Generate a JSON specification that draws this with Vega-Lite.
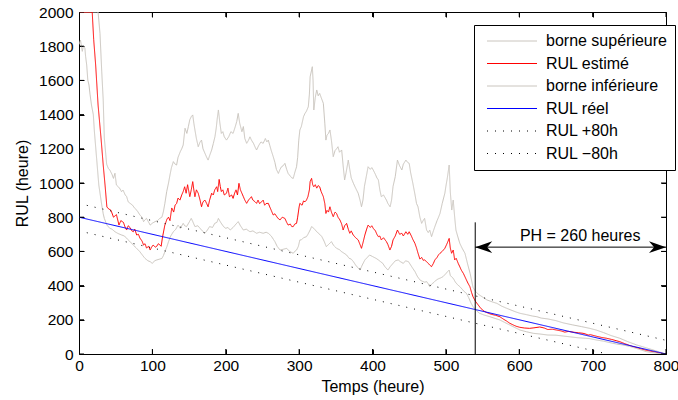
{
  "$schema": "https://vega.github.io/schema/vega-lite/v6.json",
  "width": 587,
  "height": 342,
  "autosize": {"type": "none"},
  "padding": {"left": 79, "top": 12, "right": 12, "bottom": 46},
  "background": "white",
  "resolve": {"axis": {"x": "independent", "y": "independent"}},
  "config": {
    "font": "Liberation Sans",
    "view": {"stroke": "black", "strokeWidth": 1},
    "axis": {
      "grid": false,
      "domain": false,
      "ticks": true,
      "tickSize": 5,
      "tickWidth": 1,
      "offset": -5,
      "tickColor": "black",
      "labelColor": "black",
      "titleColor": "black",
      "labelFontSize": 15.5,
      "titleFontSize": 16,
      "titleFontWeight": "normal",
      "labelFlush": false,
      "labelOverlap": false
    }
  },
  "datasets": {
    "series": [
      {"s":"borne supérieure","t":0,"v":2000},{"s":"borne supérieure","t":24,"v":2000},{"s":"borne supérieure","t":26,"v":2000},{"s":"borne supérieure","t":28.6,"v":1875},{"s":"borne supérieure","t":31,"v":1651},{"s":"borne supérieure","t":33,"v":1485},{"s":"borne supérieure","t":34.5,"v":1263},{"s":"borne supérieure","t":37.7,"v":1110},{"s":"borne supérieure","t":40,"v":1085},{"s":"borne supérieure","t":42,"v":1076},{"s":"borne supérieure","t":45,"v":1050},{"s":"borne supérieure","t":47,"v":1027},{"s":"borne supérieure","t":49,"v":1057},{"s":"borne supérieure","t":51,"v":988},{"s":"borne supérieure","t":53.6,"v":978},{"s":"borne supérieure","t":56,"v":965},{"s":"borne supérieure","t":58,"v":949},{"s":"borne supérieure","t":60,"v":959},{"s":"borne supérieure","t":63,"v":930},{"s":"borne supérieure","t":65,"v":920},{"s":"borne supérieure","t":67,"v":890},{"s":"borne supérieure","t":70,"v":880},{"s":"borne supérieure","t":73,"v":870},{"s":"borne supérieure","t":76,"v":852},{"s":"borne supérieure","t":79,"v":840},{"s":"borne supérieure","t":83,"v":813},{"s":"borne supérieure","t":86,"v":800},{"s":"borne supérieure","t":88,"v":774},{"s":"borne supérieure","t":90,"v":785},{"s":"borne supérieure","t":92,"v":793},{"s":"borne supérieure","t":95,"v":770},{"s":"borne supérieure","t":97,"v":754},{"s":"borne supérieure","t":100,"v":765},{"s":"borne supérieure","t":103.6,"v":774},{"s":"borne supérieure","t":107,"v":780},{"s":"borne supérieure","t":110,"v":793},{"s":"borne supérieure","t":113,"v":800},{"s":"borne supérieure","t":115,"v":832},{"s":"borne supérieure","t":117,"v":880},{"s":"borne supérieure","t":119.5,"v":949},{"s":"borne supérieure","t":122,"v":1000},{"s":"borne supérieure","t":124,"v":1047},{"s":"borne supérieure","t":126,"v":1090},{"s":"borne supérieure","t":128.6,"v":1125},{"s":"borne supérieure","t":131,"v":1110},{"s":"borne supérieure","t":133,"v":1105},{"s":"borne supérieure","t":135,"v":1150},{"s":"borne supérieure","t":138,"v":1183},{"s":"borne supérieure","t":140,"v":1200},{"s":"borne supérieure","t":142,"v":1222},{"s":"borne supérieure","t":144.5,"v":1320},{"s":"borne supérieure","t":147,"v":1290},{"s":"borne supérieure","t":149,"v":1329},{"s":"borne supérieure","t":151,"v":1370},{"s":"borne supérieure","t":153,"v":1388},{"s":"borne supérieure","t":155,"v":1398},{"s":"borne supérieure","t":156.5,"v":1350},{"s":"borne supérieure","t":158,"v":1310},{"s":"borne supérieure","t":160,"v":1260},{"s":"borne supérieure","t":162.5,"v":1212},{"s":"borne supérieure","t":165,"v":1240},{"s":"borne supérieure","t":167,"v":1251},{"s":"borne supérieure","t":169,"v":1200},{"s":"borne supérieure","t":171.7,"v":1173},{"s":"borne supérieure","t":174,"v":1150},{"s":"borne supérieure","t":176,"v":1134},{"s":"borne supérieure","t":178,"v":1160},{"s":"borne supérieure","t":180.8,"v":1193},{"s":"borne supérieure","t":183,"v":1230},{"s":"borne supérieure","t":185.3,"v":1271},{"s":"borne supérieure","t":187,"v":1320},{"s":"borne supérieure","t":188.5,"v":1380},{"s":"borne supérieure","t":190,"v":1427},{"s":"borne supérieure","t":192,"v":1350},{"s":"borne supérieure","t":194,"v":1290},{"s":"borne supérieure","t":196,"v":1300},{"s":"borne supérieure","t":198,"v":1270},{"s":"borne supérieure","t":201,"v":1251},{"s":"borne supérieure","t":204,"v":1270},{"s":"borne supérieure","t":207,"v":1300},{"s":"borne supérieure","t":210,"v":1290},{"s":"borne supérieure","t":213,"v":1330},{"s":"borne supérieure","t":215,"v":1360},{"s":"borne supérieure","t":217,"v":1407},{"s":"borne supérieure","t":219,"v":1350},{"s":"borne supérieure","t":222,"v":1300},{"s":"borne supérieure","t":224,"v":1330},{"s":"borne supérieure","t":226,"v":1260},{"s":"borne supérieure","t":228.5,"v":1232},{"s":"borne supérieure","t":231,"v":1250},{"s":"borne supérieure","t":233,"v":1270},{"s":"borne supérieure","t":235,"v":1251},{"s":"borne supérieure","t":238,"v":1230},{"s":"borne supérieure","t":240,"v":1210},{"s":"borne supérieure","t":242,"v":1193},{"s":"borne supérieure","t":245,"v":1220},{"s":"borne supérieure","t":248,"v":1240},{"s":"borne supérieure","t":251,"v":1232},{"s":"borne supérieure","t":254,"v":1260},{"s":"borne supérieure","t":256,"v":1240},{"s":"borne supérieure","t":258,"v":1251},{"s":"borne supérieure","t":260,"v":1220},{"s":"borne supérieure","t":262,"v":1190},{"s":"borne supérieure","t":264.7,"v":1154},{"s":"borne supérieure","t":267,"v":1120},{"s":"borne supérieure","t":269,"v":1080},{"s":"borne supérieure","t":271.7,"v":1056},{"s":"borne supérieure","t":274,"v":1080},{"s":"borne supérieure","t":276,"v":1095},{"s":"borne supérieure","t":278,"v":1100},{"s":"borne supérieure","t":280.6,"v":1115},{"s":"borne supérieure","t":283,"v":1080},{"s":"borne supérieure","t":285,"v":1056},{"s":"borne supérieure","t":288,"v":1040},{"s":"borne supérieure","t":290,"v":1030},{"s":"borne supérieure","t":292,"v":1027},{"s":"borne supérieure","t":294,"v":1060},{"s":"borne supérieure","t":296.5,"v":1095},{"s":"borne supérieure","t":298,"v":1150},{"s":"borne supérieure","t":299.5,"v":1250},{"s":"borne supérieure","t":301,"v":1310},{"s":"borne supérieure","t":303,"v":1330},{"s":"borne supérieure","t":306,"v":1388},{"s":"borne supérieure","t":308,"v":1407},{"s":"borne supérieure","t":310,"v":1420},{"s":"borne supérieure","t":312.5,"v":1446},{"s":"borne supérieure","t":314,"v":1520},{"s":"borne supérieure","t":315,"v":1621},{"s":"borne supérieure","t":317,"v":1660},{"s":"borne supérieure","t":318,"v":1680},{"s":"borne supérieure","t":319,"v":1600},{"s":"borne supérieure","t":320,"v":1427},{"s":"borne supérieure","t":322,"v":1500},{"s":"borne supérieure","t":324,"v":1544},{"s":"borne supérieure","t":326,"v":1510},{"s":"borne supérieure","t":328,"v":1524},{"s":"borne supérieure","t":330,"v":1500},{"s":"borne supérieure","t":333,"v":1466},{"s":"borne supérieure","t":335,"v":1350},{"s":"borne supérieure","t":336.5,"v":1251},{"s":"borne supérieure","t":338,"v":1280},{"s":"borne supérieure","t":340,"v":1290},{"s":"borne supérieure","t":342,"v":1310},{"s":"borne supérieure","t":344,"v":1250},{"s":"borne supérieure","t":346.5,"v":1154},{"s":"borne supérieure","t":349,"v":1190},{"s":"borne supérieure","t":351,"v":1200},{"s":"borne supérieure","t":353,"v":1212},{"s":"borne supérieure","t":355,"v":1180},{"s":"borne supérieure","t":358,"v":1193},{"s":"borne supérieure","t":360,"v":1100},{"s":"borne supérieure","t":362,"v":1018},{"s":"borne supérieure","t":364,"v":1060},{"s":"borne supérieure","t":367,"v":1134},{"s":"borne supérieure","t":369,"v":1080},{"s":"borne supérieure","t":371,"v":1030},{"s":"borne supérieure","t":374,"v":998},{"s":"borne supérieure","t":377,"v":970},{"s":"borne supérieure","t":380.5,"v":940},{"s":"borne supérieure","t":383,"v":900},{"s":"borne supérieure","t":385,"v":861},{"s":"borne supérieure","t":387,"v":900},{"s":"borne supérieure","t":389,"v":980},{"s":"borne supérieure","t":391.5,"v":1037},{"s":"borne supérieure","t":394,"v":1095},{"s":"borne supérieure","t":397,"v":1080},{"s":"borne supérieure","t":399,"v":1090},{"s":"borne supérieure","t":401,"v":1076},{"s":"borne supérieure","t":404,"v":1050},{"s":"borne supérieure","t":406,"v":1030},{"s":"borne supérieure","t":408,"v":1018},{"s":"borne supérieure","t":410,"v":960},{"s":"borne supérieure","t":412,"v":920},{"s":"borne supérieure","t":415,"v":930},{"s":"borne supérieure","t":419,"v":900},{"s":"borne supérieure","t":421,"v":880},{"s":"borne supérieure","t":424,"v":861},{"s":"borne supérieure","t":426,"v":900},{"s":"borne supérieure","t":428,"v":980},{"s":"borne supérieure","t":431,"v":1037},{"s":"borne supérieure","t":434,"v":1134},{"s":"borne supérieure","t":437,"v":1100},{"s":"borne supérieure","t":440,"v":1076},{"s":"borne supérieure","t":442,"v":1110},{"s":"borne supérieure","t":445.5,"v":1134},{"s":"borne supérieure","t":448,"v":1120},{"s":"borne supérieure","t":450,"v":1115},{"s":"borne supérieure","t":452,"v":1060},{"s":"borne supérieure","t":455,"v":998},{"s":"borne supérieure","t":458,"v":930},{"s":"borne supérieure","t":460,"v":880},{"s":"borne supérieure","t":462,"v":861},{"s":"borne supérieure","t":464.6,"v":800},{"s":"borne supérieure","t":467,"v":764},{"s":"borne supérieure","t":469,"v":780},{"s":"borne supérieure","t":471,"v":793},{"s":"borne supérieure","t":473.7,"v":725},{"s":"borne supérieure","t":476,"v":710},{"s":"borne supérieure","t":478,"v":725},{"s":"borne supérieure","t":480.5,"v":686},{"s":"borne supérieure","t":483,"v":720},{"s":"borne supérieure","t":485,"v":745},{"s":"borne supérieure","t":488,"v":780},{"s":"borne supérieure","t":490,"v":800},{"s":"borne supérieure","t":492,"v":822},{"s":"borne supérieure","t":495,"v":880},{"s":"borne supérieure","t":498.6,"v":940},{"s":"borne supérieure","t":500,"v":980},{"s":"borne supérieure","t":502,"v":1030},{"s":"borne supérieure","t":504.5,"v":1105},{"s":"borne supérieure","t":506,"v":950},{"s":"borne supérieure","t":508,"v":842},{"s":"borne supérieure","t":510,"v":900},{"s":"borne supérieure","t":512,"v":800},{"s":"borne supérieure","t":513.7,"v":725},{"s":"borne supérieure","t":516,"v":690},{"s":"borne supérieure","t":519,"v":647},{"s":"borne supérieure","t":522,"v":620},{"s":"borne supérieure","t":526,"v":589},{"s":"borne supérieure","t":530,"v":520},{"s":"borne supérieure","t":533,"v":472},{"s":"borne supérieure","t":537,"v":390},{"s":"borne supérieure","t":540,"v":368},{"s":"borne supérieure","t":544,"v":350},{"s":"borne supérieure","t":550,"v":333},{"s":"borne supérieure","t":556,"v":316},{"s":"borne supérieure","t":563,"v":305},{"s":"borne supérieure","t":569.6,"v":296},{"s":"borne supérieure","t":576,"v":280},{"s":"borne supérieure","t":583,"v":267},{"s":"borne supérieure","t":590,"v":255},{"s":"borne supérieure","t":596,"v":245},{"s":"borne supérieure","t":601,"v":238},{"s":"borne supérieure","t":610,"v":230},{"s":"borne supérieure","t":618,"v":222},{"s":"borne supérieure","t":624,"v":218},{"s":"borne supérieure","t":630,"v":210},{"s":"borne supérieure","t":639,"v":205},{"s":"borne supérieure","t":650,"v":195},{"s":"borne supérieure","t":660,"v":182},{"s":"borne supérieure","t":673,"v":170},{"s":"borne supérieure","t":685,"v":160},{"s":"borne supérieure","t":696,"v":150},{"s":"borne supérieure","t":705,"v":140},{"s":"borne supérieure","t":715,"v":125},{"s":"borne supérieure","t":725,"v":108},{"s":"borne supérieure","t":737,"v":92},{"s":"borne supérieure","t":748,"v":72},{"s":"borne supérieure","t":760,"v":53},{"s":"borne supérieure","t":770,"v":40},{"s":"borne supérieure","t":780,"v":27},{"s":"borne supérieure","t":790,"v":13},{"s":"borne supérieure","t":800,"v":0},

      {"s":"RUL estimé","t":0,"v":2000},{"s":"RUL estimé","t":18,"v":2000},{"s":"RUL estimé","t":20,"v":1840},{"s":"RUL estimé","t":22.7,"v":1690},{"s":"RUL estimé","t":26,"v":1456},{"s":"RUL estimé","t":30,"v":1263},{"s":"RUL estimé","t":33,"v":1105},{"s":"RUL estimé","t":35.5,"v":988},{"s":"RUL estimé","t":38,"v":860},{"s":"RUL estimé","t":40,"v":850},{"s":"RUL estimé","t":43.6,"v":840},{"s":"RUL estimé","t":47,"v":800},{"s":"RUL estimé","t":51,"v":815},{"s":"RUL estimé","t":54.5,"v":754},{"s":"RUL estimé","t":57,"v":780},{"s":"RUL estimé","t":60.5,"v":770},{"s":"RUL estimé","t":63,"v":740},{"s":"RUL estimé","t":65,"v":725},{"s":"RUL estimé","t":67,"v":750},{"s":"RUL estimé","t":69.5,"v":740},{"s":"RUL estimé","t":72,"v":720},{"s":"RUL estimé","t":74,"v":715},{"s":"RUL estimé","t":76,"v":730},{"s":"RUL estimé","t":78.6,"v":696},{"s":"RUL estimé","t":81,"v":700},{"s":"RUL estimé","t":83,"v":678},{"s":"RUL estimé","t":86,"v":660},{"s":"RUL estimé","t":88,"v":637},{"s":"RUL estimé","t":90,"v":645},{"s":"RUL estimé","t":92,"v":620},{"s":"RUL estimé","t":95,"v":630},{"s":"RUL estimé","t":97,"v":608},{"s":"RUL estimé","t":99,"v":625},{"s":"RUL estimé","t":101,"v":637},{"s":"RUL estimé","t":104,"v":625},{"s":"RUL estimé","t":106,"v":630},{"s":"RUL estimé","t":108,"v":645},{"s":"RUL estimé","t":110.5,"v":637},{"s":"RUL estimé","t":112,"v":630},{"s":"RUL estimé","t":113.6,"v":678},{"s":"RUL estimé","t":117,"v":754},{"s":"RUL estimé","t":120,"v":790},{"s":"RUL estimé","t":122,"v":800},{"s":"RUL estimé","t":124,"v":780},{"s":"RUL estimé","t":126.4,"v":854},{"s":"RUL estimé","t":129,"v":830},{"s":"RUL estimé","t":131,"v":871},{"s":"RUL estimé","t":133,"v":880},{"s":"RUL estimé","t":135,"v":912},{"s":"RUL estimé","t":137.6,"v":900},{"s":"RUL estimé","t":140,"v":930},{"s":"RUL estimé","t":142,"v":950},{"s":"RUL estimé","t":144,"v":978},{"s":"RUL estimé","t":146,"v":940},{"s":"RUL estimé","t":148,"v":990},{"s":"RUL estimé","t":151,"v":920},{"s":"RUL estimé","t":153,"v":960},{"s":"RUL estimé","t":155,"v":1008},{"s":"RUL estimé","t":156.5,"v":960},{"s":"RUL estimé","t":158,"v":920},{"s":"RUL estimé","t":160,"v":960},{"s":"RUL estimé","t":162.5,"v":940},{"s":"RUL estimé","t":165,"v":900},{"s":"RUL estimé","t":167,"v":861},{"s":"RUL estimé","t":169,"v":890},{"s":"RUL estimé","t":171.7,"v":900},{"s":"RUL estimé","t":174,"v":880},{"s":"RUL estimé","t":176,"v":861},{"s":"RUL estimé","t":178,"v":900},{"s":"RUL estimé","t":180.8,"v":940},{"s":"RUL estimé","t":183,"v":930},{"s":"RUL estimé","t":185,"v":960},{"s":"RUL estimé","t":187.6,"v":978},{"s":"RUL estimé","t":189,"v":950},{"s":"RUL estimé","t":191,"v":1021},{"s":"RUL estimé","t":192.5,"v":980},{"s":"RUL estimé","t":194,"v":950},{"s":"RUL estimé","t":196,"v":960},{"s":"RUL estimé","t":198,"v":930},{"s":"RUL estimé","t":201,"v":940},{"s":"RUL estimé","t":203,"v":970},{"s":"RUL estimé","t":205,"v":920},{"s":"RUL estimé","t":208,"v":930},{"s":"RUL estimé","t":210,"v":910},{"s":"RUL estimé","t":212,"v":940},{"s":"RUL estimé","t":214,"v":960},{"s":"RUL estimé","t":216,"v":930},{"s":"RUL estimé","t":218,"v":998},{"s":"RUL estimé","t":220,"v":960},{"s":"RUL estimé","t":222,"v":940},{"s":"RUL estimé","t":224,"v":920},{"s":"RUL estimé","t":226,"v":900},{"s":"RUL estimé","t":228.5,"v":881},{"s":"RUL estimé","t":231,"v":900},{"s":"RUL estimé","t":233,"v":910},{"s":"RUL estimé","t":235,"v":920},{"s":"RUL estimé","t":237,"v":900},{"s":"RUL estimé","t":240,"v":890},{"s":"RUL estimé","t":242,"v":881},{"s":"RUL estimé","t":244,"v":900},{"s":"RUL estimé","t":246,"v":880},{"s":"RUL estimé","t":249,"v":890},{"s":"RUL estimé","t":251,"v":900},{"s":"RUL estimé","t":253,"v":870},{"s":"RUL estimé","t":255,"v":880},{"s":"RUL estimé","t":258,"v":881},{"s":"RUL estimé","t":260,"v":860},{"s":"RUL estimé","t":262,"v":840},{"s":"RUL estimé","t":264.7,"v":813},{"s":"RUL estimé","t":267,"v":820},{"s":"RUL estimé","t":270,"v":800},{"s":"RUL estimé","t":272,"v":790},{"s":"RUL estimé","t":274,"v":784},{"s":"RUL estimé","t":277,"v":800},{"s":"RUL estimé","t":280.6,"v":793},{"s":"RUL estimé","t":283,"v":770},{"s":"RUL estimé","t":285,"v":754},{"s":"RUL estimé","t":288,"v":760},{"s":"RUL estimé","t":290,"v":745},{"s":"RUL estimé","t":292,"v":745},{"s":"RUL estimé","t":294,"v":760},{"s":"RUL estimé","t":296.5,"v":764},{"s":"RUL estimé","t":298,"v":800},{"s":"RUL estimé","t":300,"v":860},{"s":"RUL estimé","t":301,"v":881},{"s":"RUL estimé","t":304,"v":870},{"s":"RUL estimé","t":306,"v":895},{"s":"RUL estimé","t":308,"v":890},{"s":"RUL estimé","t":310,"v":900},{"s":"RUL estimé","t":312,"v":920},{"s":"RUL estimé","t":314,"v":960},{"s":"RUL estimé","t":315,"v":1008},{"s":"RUL estimé","t":317,"v":1027},{"s":"RUL estimé","t":318.5,"v":990},{"s":"RUL estimé","t":320,"v":978},{"s":"RUL estimé","t":322,"v":990},{"s":"RUL estimé","t":324,"v":970},{"s":"RUL estimé","t":326,"v":985},{"s":"RUL estimé","t":328,"v":978},{"s":"RUL estimé","t":330,"v":950},{"s":"RUL estimé","t":333,"v":920},{"s":"RUL estimé","t":335,"v":880},{"s":"RUL estimé","t":336.5,"v":822},{"s":"RUL estimé","t":338,"v":840},{"s":"RUL estimé","t":340,"v":830},{"s":"RUL estimé","t":342,"v":861},{"s":"RUL estimé","t":344,"v":830},{"s":"RUL estimé","t":346.5,"v":803},{"s":"RUL estimé","t":349,"v":830},{"s":"RUL estimé","t":351,"v":822},{"s":"RUL estimé","t":353,"v":800},{"s":"RUL estimé","t":355.6,"v":784},{"s":"RUL estimé","t":358,"v":760},{"s":"RUL estimé","t":360,"v":725},{"s":"RUL estimé","t":362,"v":750},{"s":"RUL estimé","t":364.7,"v":764},{"s":"RUL estimé","t":367,"v":730},{"s":"RUL estimé","t":369,"v":706},{"s":"RUL estimé","t":371,"v":720},{"s":"RUL estimé","t":373.7,"v":696},{"s":"RUL estimé","t":377,"v":680},{"s":"RUL estimé","t":380.5,"v":667},{"s":"RUL estimé","t":383,"v":640},{"s":"RUL estimé","t":385,"v":618},{"s":"RUL estimé","t":387,"v":650},{"s":"RUL estimé","t":389.6,"v":696},{"s":"RUL estimé","t":392,"v":730},{"s":"RUL estimé","t":394,"v":754},{"s":"RUL estimé","t":397,"v":740},{"s":"RUL estimé","t":399,"v":750},{"s":"RUL estimé","t":401,"v":735},{"s":"RUL estimé","t":404,"v":720},{"s":"RUL estimé","t":406,"v":700},{"s":"RUL estimé","t":408,"v":686},{"s":"RUL estimé","t":410,"v":690},{"s":"RUL estimé","t":412,"v":667},{"s":"RUL estimé","t":415,"v":680},{"s":"RUL estimé","t":419,"v":657},{"s":"RUL estimé","t":421,"v":640},{"s":"RUL estimé","t":423.7,"v":608},{"s":"RUL estimé","t":426,"v":630},{"s":"RUL estimé","t":428,"v":667},{"s":"RUL estimé","t":431,"v":690},{"s":"RUL estimé","t":434,"v":725},{"s":"RUL estimé","t":437,"v":700},{"s":"RUL estimé","t":440,"v":706},{"s":"RUL estimé","t":442,"v":690},{"s":"RUL estimé","t":445.5,"v":715},{"s":"RUL estimé","t":448,"v":700},{"s":"RUL estimé","t":450,"v":715},{"s":"RUL estimé","t":453,"v":690},{"s":"RUL estimé","t":455,"v":670},{"s":"RUL estimé","t":457.8,"v":647},{"s":"RUL estimé","t":460,"v":620},{"s":"RUL estimé","t":462,"v":590},{"s":"RUL estimé","t":464.6,"v":555},{"s":"RUL estimé","t":467,"v":565},{"s":"RUL estimé","t":469,"v":548},{"s":"RUL estimé","t":471,"v":550},{"s":"RUL estimé","t":473.7,"v":540},{"s":"RUL estimé","t":476,"v":530},{"s":"RUL estimé","t":478,"v":520},{"s":"RUL estimé","t":480.5,"v":511},{"s":"RUL estimé","t":483,"v":530},{"s":"RUL estimé","t":485,"v":550},{"s":"RUL estimé","t":488,"v":565},{"s":"RUL estimé","t":490,"v":580},{"s":"RUL estimé","t":492,"v":589},{"s":"RUL estimé","t":495,"v":600},{"s":"RUL estimé","t":498.6,"v":618},{"s":"RUL estimé","t":501,"v":640},{"s":"RUL estimé","t":503,"v":660},{"s":"RUL estimé","t":504.5,"v":676},{"s":"RUL estimé","t":506,"v":620},{"s":"RUL estimé","t":507.8,"v":589},{"s":"RUL estimé","t":510,"v":608},{"s":"RUL estimé","t":512,"v":550},{"s":"RUL estimé","t":514,"v":560},{"s":"RUL estimé","t":516.8,"v":530},{"s":"RUL estimé","t":519,"v":510},{"s":"RUL estimé","t":521,"v":491},{"s":"RUL estimé","t":524,"v":470},{"s":"RUL estimé","t":528,"v":433},{"s":"RUL estimé","t":530,"v":415},{"s":"RUL estimé","t":532.7,"v":394},{"s":"RUL estimé","t":535,"v":360},{"s":"RUL estimé","t":537,"v":335},{"s":"RUL estimé","t":540,"v":310},{"s":"RUL estimé","t":544,"v":287},{"s":"RUL estimé","t":548,"v":265},{"s":"RUL estimé","t":553,"v":248},{"s":"RUL estimé","t":558,"v":238},{"s":"RUL estimé","t":562,"v":232},{"s":"RUL estimé","t":568,"v":226},{"s":"RUL estimé","t":573.6,"v":218},{"s":"RUL estimé","t":578,"v":205},{"s":"RUL estimé","t":582.7,"v":193},{"s":"RUL estimé","t":587,"v":180},{"s":"RUL estimé","t":591.7,"v":170},{"s":"RUL estimé","t":596,"v":162},{"s":"RUL estimé","t":600.8,"v":156},{"s":"RUL estimé","t":607,"v":152},{"s":"RUL estimé","t":614,"v":150},{"s":"RUL estimé","t":620,"v":153},{"s":"RUL estimé","t":628,"v":158},{"s":"RUL estimé","t":634,"v":152},{"s":"RUL estimé","t":639,"v":143},{"s":"RUL estimé","t":645,"v":145},{"s":"RUL estimé","t":651,"v":140},{"s":"RUL estimé","t":657,"v":135},{"s":"RUL estimé","t":662,"v":128},{"s":"RUL estimé","t":667,"v":132},{"s":"RUL estimé","t":675,"v":127},{"s":"RUL estimé","t":681,"v":124},{"s":"RUL estimé","t":687,"v":121},{"s":"RUL estimé","t":691,"v":116},{"s":"RUL estimé","t":694,"v":111},{"s":"RUL estimé","t":697,"v":113},{"s":"RUL estimé","t":705,"v":104},{"s":"RUL estimé","t":712,"v":97},{"s":"RUL estimé","t":719,"v":92},{"s":"RUL estimé","t":726,"v":85},{"s":"RUL estimé","t":732,"v":78},{"s":"RUL estimé","t":737,"v":72},{"s":"RUL estimé","t":743,"v":62},{"s":"RUL estimé","t":749,"v":52},{"s":"RUL estimé","t":755,"v":43},{"s":"RUL estimé","t":762,"v":35},{"s":"RUL estimé","t":768,"v":27},{"s":"RUL estimé","t":775,"v":20},{"s":"RUL estimé","t":782,"v":14},{"s":"RUL estimé","t":790,"v":7},{"s":"RUL estimé","t":800,"v":0},

      {"s":"borne inférieure","t":0,"v":1810},{"s":"borne inférieure","t":2,"v":1836},{"s":"borne inférieure","t":4.5,"v":1770},{"s":"borne inférieure","t":6,"v":1800},{"s":"borne inférieure","t":8,"v":1790},{"s":"borne inférieure","t":9,"v":1740},{"s":"borne inférieure","t":10.5,"v":1690},{"s":"borne inférieure","t":12,"v":1602},{"s":"borne inférieure","t":13.6,"v":1573},{"s":"borne inférieure","t":15,"v":1520},{"s":"borne inférieure","t":17,"v":1456},{"s":"borne inférieure","t":19.5,"v":1400},{"s":"borne inférieure","t":21,"v":1300},{"s":"borne inférieure","t":24,"v":1144},{"s":"borne inférieure","t":27,"v":988},{"s":"borne inférieure","t":29,"v":930},{"s":"borne inférieure","t":31,"v":871},{"s":"borne inférieure","t":33,"v":820},{"s":"borne inférieure","t":34.5,"v":793},{"s":"borne inférieure","t":38,"v":754},{"s":"borne inférieure","t":42,"v":735},{"s":"borne inférieure","t":45,"v":730},{"s":"borne inférieure","t":49,"v":715},{"s":"borne inférieure","t":53,"v":705},{"s":"borne inférieure","t":58,"v":696},{"s":"borne inférieure","t":62,"v":690},{"s":"borne inférieure","t":65,"v":676},{"s":"borne inférieure","t":70,"v":655},{"s":"borne inférieure","t":74,"v":637},{"s":"borne inférieure","t":78,"v":620},{"s":"borne inférieure","t":83,"v":598},{"s":"borne inférieure","t":87,"v":575},{"s":"borne inférieure","t":90,"v":559},{"s":"borne inférieure","t":94,"v":545},{"s":"borne inférieure","t":97,"v":540},{"s":"borne inférieure","t":100,"v":530},{"s":"borne inférieure","t":103,"v":545},{"s":"borne inférieure","t":106,"v":550},{"s":"borne inférieure","t":110,"v":555},{"s":"borne inférieure","t":113,"v":559},{"s":"borne inférieure","t":115,"v":575},{"s":"borne inférieure","t":117,"v":598},{"s":"borne inférieure","t":120,"v":630},{"s":"borne inférieure","t":122,"v":657},{"s":"borne inférieure","t":125,"v":690},{"s":"borne inférieure","t":128.6,"v":715},{"s":"borne inférieure","t":132,"v":730},{"s":"borne inférieure","t":135,"v":754},{"s":"borne inférieure","t":138,"v":735},{"s":"borne inférieure","t":142,"v":764},{"s":"borne inférieure","t":144,"v":750},{"s":"borne inférieure","t":146.6,"v":745},{"s":"borne inférieure","t":150,"v":770},{"s":"borne inférieure","t":153,"v":793},{"s":"borne inférieure","t":155,"v":775},{"s":"borne inférieure","t":158,"v":745},{"s":"borne inférieure","t":162,"v":750},{"s":"borne inférieure","t":165,"v":735},{"s":"borne inférieure","t":168,"v":720},{"s":"borne inférieure","t":171.7,"v":706},{"s":"borne inférieure","t":175,"v":725},{"s":"borne inférieure","t":178,"v":745},{"s":"borne inférieure","t":182,"v":740},{"s":"borne inférieure","t":185,"v":764},{"s":"borne inférieure","t":188,"v":770},{"s":"borne inférieure","t":190,"v":793},{"s":"borne inférieure","t":193,"v":770},{"s":"borne inférieure","t":197,"v":745},{"s":"borne inférieure","t":200,"v":735},{"s":"borne inférieure","t":203,"v":740},{"s":"borne inférieure","t":206,"v":725},{"s":"borne inférieure","t":210,"v":740},{"s":"borne inférieure","t":214,"v":760},{"s":"borne inférieure","t":217,"v":774},{"s":"borne inférieure","t":220,"v":750},{"s":"borne inférieure","t":224,"v":725},{"s":"borne inférieure","t":228,"v":730},{"s":"borne inférieure","t":233,"v":715},{"s":"borne inférieure","t":237,"v":720},{"s":"borne inférieure","t":242,"v":706},{"s":"borne inférieure","t":246,"v":712},{"s":"borne inférieure","t":251,"v":706},{"s":"borne inférieure","t":255,"v":712},{"s":"borne inférieure","t":258,"v":706},{"s":"borne inférieure","t":262,"v":690},{"s":"borne inférieure","t":265,"v":670},{"s":"borne inférieure","t":267,"v":657},{"s":"borne inférieure","t":270,"v":630},{"s":"borne inférieure","t":274,"v":608},{"s":"borne inférieure","t":278,"v":612},{"s":"borne inférieure","t":283,"v":618},{"s":"borne inférieure","t":287,"v":600},{"s":"borne inférieure","t":292,"v":589},{"s":"borne inférieure","t":294,"v":600},{"s":"borne inférieure","t":296.5,"v":608},{"s":"borne inférieure","t":299,"v":630},{"s":"borne inférieure","t":301,"v":667},{"s":"borne inférieure","t":303,"v":667},{"s":"borne inférieure","t":306,"v":680},{"s":"borne inférieure","t":310,"v":686},{"s":"borne inférieure","t":312,"v":700},{"s":"borne inférieure","t":315,"v":725},{"s":"borne inférieure","t":317,"v":745},{"s":"borne inférieure","t":320,"v":735},{"s":"borne inférieure","t":324,"v":715},{"s":"borne inférieure","t":328,"v":700},{"s":"borne inférieure","t":331,"v":686},{"s":"borne inférieure","t":334,"v":660},{"s":"borne inférieure","t":337,"v":628},{"s":"borne inférieure","t":340,"v":640},{"s":"borne inférieure","t":344,"v":657},{"s":"borne inférieure","t":347,"v":635},{"s":"borne inférieure","t":351,"v":618},{"s":"borne inférieure","t":355,"v":610},{"s":"borne inférieure","t":358,"v":598},{"s":"borne inférieure","t":361,"v":590},{"s":"borne inférieure","t":364.7,"v":579},{"s":"borne inférieure","t":368,"v":560},{"s":"borne inférieure","t":371,"v":555},{"s":"borne inférieure","t":374,"v":540},{"s":"borne inférieure","t":377,"v":520},{"s":"borne inférieure","t":380,"v":505},{"s":"borne inférieure","t":383,"v":491},{"s":"borne inférieure","t":386,"v":520},{"s":"borne inférieure","t":389.6,"v":550},{"s":"borne inférieure","t":393,"v":565},{"s":"borne inférieure","t":396,"v":579},{"s":"borne inférieure","t":400,"v":570},{"s":"borne inférieure","t":405,"v":559},{"s":"borne inférieure","t":408,"v":550},{"s":"borne inférieure","t":411,"v":540},{"s":"borne inférieure","t":414,"v":530},{"s":"borne inférieure","t":417,"v":510},{"s":"borne inférieure","t":421,"v":491},{"s":"borne inférieure","t":424,"v":510},{"s":"borne inférieure","t":428,"v":530},{"s":"borne inférieure","t":431,"v":545},{"s":"borne inférieure","t":435,"v":550},{"s":"borne inférieure","t":438,"v":540},{"s":"borne inférieure","t":442,"v":530},{"s":"borne inférieure","t":445,"v":545},{"s":"borne inférieure","t":449,"v":540},{"s":"borne inférieure","t":452,"v":520},{"s":"borne inférieure","t":455,"v":500},{"s":"borne inférieure","t":458,"v":481},{"s":"borne inférieure","t":461,"v":455},{"s":"borne inférieure","t":464.6,"v":433},{"s":"borne inférieure","t":468,"v":425},{"s":"borne inférieure","t":471,"v":420},{"s":"borne inférieure","t":474,"v":423},{"s":"borne inférieure","t":476,"v":410},{"s":"borne inférieure","t":478,"v":394},{"s":"borne inférieure","t":481,"v":410},{"s":"borne inférieure","t":484,"v":420},{"s":"borne inférieure","t":487,"v":433},{"s":"borne inférieure","t":490,"v":440},{"s":"borne inférieure","t":493,"v":445},{"s":"borne inférieure","t":496,"v":452},{"s":"borne inférieure","t":500,"v":470},{"s":"borne inférieure","t":502,"v":480},{"s":"borne inférieure","t":504.5,"v":491},{"s":"borne inférieure","t":506,"v":460},{"s":"borne inférieure","t":508,"v":450},{"s":"borne inférieure","t":510,"v":443},{"s":"borne inférieure","t":513,"v":420},{"s":"borne inférieure","t":516,"v":405},{"s":"borne inférieure","t":519,"v":394},{"s":"borne inférieure","t":522,"v":380},{"s":"borne inférieure","t":525,"v":365},{"s":"borne inférieure","t":528,"v":355},{"s":"borne inférieure","t":531,"v":330},{"s":"borne inférieure","t":534,"v":300},{"s":"borne inférieure","t":537,"v":277},{"s":"borne inférieure","t":540,"v":262},{"s":"borne inférieure","t":543,"v":248},{"s":"borne inférieure","t":546,"v":238},{"s":"borne inférieure","t":552,"v":228},{"s":"borne inférieure","t":560,"v":218},{"s":"borne inférieure","t":567,"v":208},{"s":"borne inférieure","t":573.6,"v":199},{"s":"borne inférieure","t":580,"v":185},{"s":"borne inférieure","t":587,"v":170},{"s":"borne inférieure","t":594,"v":155},{"s":"borne inférieure","t":601,"v":140},{"s":"borne inférieure","t":610,"v":130},{"s":"borne inférieure","t":619,"v":121},{"s":"borne inférieure","t":628,"v":117},{"s":"borne inférieure","t":639,"v":111},{"s":"borne inférieure","t":650,"v":110},{"s":"borne inférieure","t":660,"v":105},{"s":"borne inférieure","t":670,"v":100},{"s":"borne inférieure","t":680,"v":95},{"s":"borne inférieure","t":690,"v":92},{"s":"borne inférieure","t":696,"v":90},{"s":"borne inférieure","t":705,"v":82},{"s":"borne inférieure","t":715,"v":75},{"s":"borne inférieure","t":725,"v":65},{"s":"borne inférieure","t":733,"v":58},{"s":"borne inférieure","t":741,"v":53},{"s":"borne inférieure","t":750,"v":45},{"s":"borne inférieure","t":760,"v":32},{"s":"borne inférieure","t":773,"v":14},{"s":"borne inférieure","t":780,"v":9},{"s":"borne inférieure","t":790,"v":4},{"s":"borne inférieure","t":800,"v":0},

      {"s":"RUL réel","t":0,"v":800},{"s":"RUL réel","t":800,"v":0},
      {"s":"RUL +80h","t":0,"v":880},{"s":"RUL +80h","t":800,"v":80},
      {"s":"RUL −80h","t":0,"v":720},{"s":"RUL −80h","t":720,"v":0}
    ],
    "xticks": [{"t":0},{"t":100},{"t":200},{"t":300},{"t":400},{"t":500},{"t":600},{"t":700},{"t":800}],
    "yticks": [{"v":0},{"v":200},{"v":400},{"v":600},{"v":800},{"v":1000},{"v":1200},{"v":1400},{"v":1600},{"v":1800},{"v":2000}],
    "ph": [{"t":540,"v":0,"v2":770}],
    "arrow": [{"t":540,"t2":800,"v":625}],
    "headL": [{"t":540,"v":625}],
    "headR": [{"t":800,"v":625}],
    "label": [{"t":683,"v":662,"text":"PH = 260 heures"}]
  },
  "layer": [
    {
      "data": {"name": "series"},
      "mark": {"type": "line", "strokeWidth": 1, "clip": true},
      "encoding": {
        "x": {"field": "t", "type": "quantitative", "scale": {"domain": [0, 800], "nice": false, "zero": false},
              "axis": {"orient": "bottom", "title": "Temps (heure)", "format": "d", "values": [0,100,200,300,400,500,600,700,800],
                       "labelPadding": 4, "titlePadding": 5}},
        "y": {"field": "v", "type": "quantitative", "scale": {"domain": [0, 2000], "nice": false},
              "axis": {"orient": "left", "title": "RUL (heure)", "format": "d", "values": [0,200,400,600,800,1000,1200,1400,1600,1800,2000],
                       "labelPadding": 6, "titlePadding": 8}},
        "detail": {"field": "s"},
        "color": {
          "field": "s", "type": "nominal",
          "scale": {
            "domain": ["borne supérieure","RUL estimé","borne inférieure","RUL réel","RUL +80h","RUL −80h"],
            "range": ["#cac5be","#ff0000","#cac5be","#0000ff","#000000","#000000"]
          },
          "legend": {
            "title": null, "orient": "none", "legendX": 395, "legendY": 13,
            "fillColor": "white", "strokeColor": "black", "padding": 8,
            "symbolType": "M-0.6,0H9.4", "symbolSize": 100, "symbolStrokeWidth": 1,
            "labelOffset": 48, "labelFontSize": 16, "labelColor": "black", "rowPadding": 6.5, "labelLimit": 300
          }
        },
        "strokeDash": {
          "field": "s", "type": "nominal",
          "scale": {
            "domain": ["borne supérieure","RUL estimé","borne inférieure","RUL réel","RUL +80h","RUL −80h"],
            "range": [[1,0],[1,0],[1,0],[1,0],[1,7],[1,7]]
          },
          "legend": {
            "title": null, "orient": "none", "legendX": 395, "legendY": 13,
            "fillColor": "white", "strokeColor": "black", "padding": 8,
            "symbolType": "M-0.6,0H9.4", "symbolSize": 100, "symbolStrokeWidth": 1,
            "labelOffset": 48, "labelFontSize": 16, "labelColor": "black", "rowPadding": 6.5, "labelLimit": 300
          }
        }
      }
    },
    {
      "data": {"name": "ph"},
      "mark": {"type": "rule", "color": "black", "strokeWidth": 1},
      "encoding": {
        "x": {"field": "t", "type": "quantitative",
              "axis": {"orient": "top", "labels": false, "title": null, "values": [0,100,200,300,400,500,600,700,800]}},
        "y": {"field": "v", "type": "quantitative",
              "axis": {"orient": "right", "labels": false, "title": null, "values": [0,200,400,600,800,1000,1200,1400,1600,1800,2000]}},
        "y2": {"field": "v2"}
      }
    },
    {
      "data": {"name": "xticks"},
      "mark": {"type": "tick", "orient": "vertical", "size": 10, "thickness": 1, "color": "black", "opacity": 1, "clip": true},
      "encoding": {
        "x": {"field": "t", "type": "quantitative", "axis": null},
        "y": {"datum": 0, "type": "quantitative", "axis": null}
      }
    },
    {
      "data": {"name": "xticks"},
      "mark": {"type": "tick", "orient": "vertical", "size": 10, "thickness": 1, "color": "black", "opacity": 1, "clip": true},
      "encoding": {
        "x": {"field": "t", "type": "quantitative", "axis": null},
        "y": {"datum": 2000, "type": "quantitative", "axis": null}
      }
    },
    {
      "data": {"name": "yticks"},
      "mark": {"type": "tick", "orient": "horizontal", "size": 10, "thickness": 1, "color": "black", "opacity": 1, "clip": true},
      "encoding": {
        "y": {"field": "v", "type": "quantitative", "axis": null},
        "x": {"datum": 0, "type": "quantitative", "axis": null}
      }
    },
    {
      "data": {"name": "yticks"},
      "mark": {"type": "tick", "orient": "horizontal", "size": 10, "thickness": 1, "color": "black", "opacity": 1, "clip": true},
      "encoding": {
        "y": {"field": "v", "type": "quantitative", "axis": null},
        "x": {"datum": 800, "type": "quantitative", "axis": null}
      }
    },
    {
      "data": {"name": "arrow"},
      "mark": {"type": "rule", "color": "black", "strokeWidth": 1},
      "encoding": {
        "x": {"field": "t", "type": "quantitative", "axis": null},
        "x2": {"field": "t2"},
        "y": {"field": "v", "type": "quantitative", "axis": null}
      }
    },
    {
      "data": {"name": "headL"},
      "mark": {"type": "point", "shape": "M0,0L2,-0.7L1.4,0L2,0.7Z", "size": 289, "filled": true, "color": "black", "opacity": 1},
      "encoding": {
        "x": {"field": "t", "type": "quantitative", "axis": null},
        "y": {"field": "v", "type": "quantitative", "axis": null}
      }
    },
    {
      "data": {"name": "headR"},
      "mark": {"type": "point", "shape": "M0,0L-2,-0.7L-1.4,0L-2,0.7Z", "size": 289, "filled": true, "color": "black", "opacity": 1},
      "encoding": {
        "x": {"field": "t", "type": "quantitative", "axis": null},
        "y": {"field": "v", "type": "quantitative", "axis": null}
      }
    },
    {
      "data": {"name": "label"},
      "mark": {"type": "text", "fontSize": 16, "align": "center", "baseline": "alphabetic", "color": "black"},
      "encoding": {
        "x": {"field": "t", "type": "quantitative", "axis": null},
        "y": {"field": "v", "type": "quantitative", "axis": null},
        "text": {"field": "text"}
      }
    }
  ]
}
